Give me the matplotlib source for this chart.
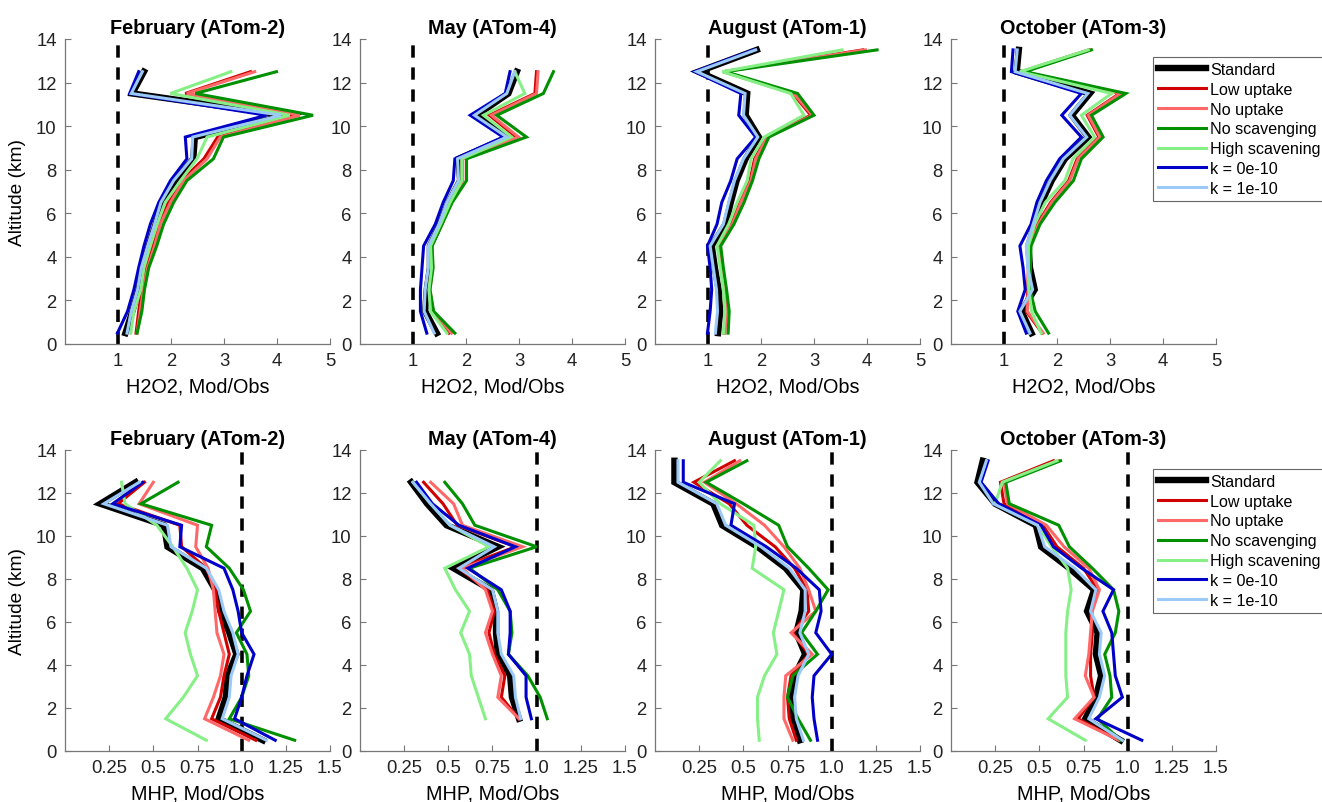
import numpy as np
import matplotlib
matplotlib.use("Agg")
import matplotlib.pyplot as plt

plt.rcParams["font.family"] = ["Liberation Sans", "DejaVu Sans"]

nan = np.nan

# altitude bin centres (km)
altitude = [0.5, 1.5, 2.5, 3.5, 4.5, 5.5, 6.5, 7.5, 8.5, 9.5, 10.5, 11.5, 12.5, 13.5]

labels = ["Standard", "Low uptake", "No uptake", "No scavenging",
          "High scavening", "k = 0e-10", "k = 1e-10"]
keys = ["std", "low", "noup", "nosc", "hisc", "k0", "k1"]
colors = ["black", "#d00000", "#ff6868", "#009000", "#86f086", "#0000c8", "#9ccaf8"]
widths = [4.6, 2.2, 2.2, 2.2, 2.2, 2.2, 2.2]

titles = ["February (ATom-2)", "May (ATom-4)", "August (ATom-1)", "October (ATom-3)"]

# H2O2 model/obs ratios, bottom to top
h2o2_feb = {
    "std":  [1.14, 1.27, 1.39, 1.46, 1.58, 1.71, 1.83, 2.08, 2.42, 2.45, 4.17, 1.27, 1.49, nan],
    "low":  [1.34, 1.39, 1.45, 1.53, 1.66, 1.78, 1.95, 2.20, 2.62, 2.88, 4.38, 2.27, 3.50, nan],
    "noup": [1.36, 1.42, 1.48, 1.56, 1.69, 1.80, 1.99, 2.24, 2.68, 2.93, 4.43, 2.30, 3.58, nan],
    "nosc": [1.36, 1.45, 1.50, 1.58, 1.73, 1.86, 2.05, 2.30, 2.80, 2.99, 4.68, 2.46, 3.99, nan],
    "hisc": [1.24, 1.30, 1.43, 1.49, 1.61, 1.74, 1.89, 2.18, 2.49, 2.68, 4.24, 1.99, 3.13, nan],
    "k0":   [0.99, 1.18, 1.30, 1.39, 1.49, 1.61, 1.77, 1.99, 2.30, 2.27, 3.80, 1.22, 1.39, nan],
    "k1":   [1.17, 1.25, 1.37, 1.44, 1.56, 1.69, 1.81, 2.05, 2.39, 2.41, 4.08, 1.25, 1.46, nan],
}
h2o2_may = {
    "std":  [1.45, 1.23, 1.26, 1.32, 1.32, 1.51, 1.67, 1.89, 1.86, 2.80, 2.20, 2.80, 2.96, nan],
    "low":  [1.68, 1.35, 1.30, 1.36, 1.34, 1.54, 1.70, 1.93, 1.92, 2.95, 2.44, 3.30, 3.33, nan],
    "noup": [1.73, 1.38, 1.32, 1.37, 1.35, 1.55, 1.71, 1.94, 1.94, 2.99, 2.48, 3.33, 3.36, nan],
    "nosc": [1.79, 1.39, 1.32, 1.38, 1.36, 1.55, 1.74, 2.01, 2.01, 3.14, 2.58, 3.46, 3.65, nan],
    "hisc": [1.64, 1.33, 1.30, 1.35, 1.33, 1.52, 1.70, 1.92, 1.92, 2.86, 2.33, 3.11, 2.92, nan],
    "k0":   [1.26, 1.14, 1.14, 1.17, 1.20, 1.42, 1.57, 1.76, 1.79, 2.70, 2.08, 2.74, 2.83, nan],
    "k1":   [1.40, 1.21, 1.23, 1.29, 1.29, 1.49, 1.64, 1.86, 1.84, 2.77, 2.16, 2.77, 2.92, nan],
}
h2o2_aug = {
    "std":  [1.19, 1.23, 1.20, 1.13, 1.07, 1.33, 1.43, 1.54, 1.71, 1.96, 1.71, 1.74, 0.82, 1.92],
    "low":  [1.30, 1.33, 1.30, 1.25, 1.19, 1.44, 1.60, 1.79, 1.88, 2.10, 2.94, 2.60, 1.29, 3.92],
    "noup": [1.32, 1.35, 1.32, 1.26, 1.20, 1.46, 1.62, 1.81, 1.90, 2.12, 2.97, 2.62, 1.30, 3.97],
    "nosc": [1.38, 1.40, 1.35, 1.29, 1.24, 1.49, 1.68, 1.84, 1.96, 2.15, 3.00, 2.69, 1.33, 4.19],
    "hisc": [1.29, 1.32, 1.29, 1.23, 1.17, 1.39, 1.55, 1.74, 1.81, 2.06, 2.81, 2.56, 1.27, 3.53],
    "k0":   [0.99, 1.04, 1.07, 1.04, 0.99, 1.17, 1.26, 1.43, 1.55, 1.90, 1.58, 1.62, 0.75, 1.86],
    "k1":   [1.14, 1.18, 1.16, 1.10, 1.04, 1.29, 1.39, 1.50, 1.67, 1.94, 1.67, 1.70, 0.79, 1.90],
}
h2o2_oct = {
    "std":  [1.52, 1.33, 1.58, 1.49, 1.46, 1.58, 1.71, 1.90, 2.15, 2.59, 2.28, 2.62, 1.24, 1.28],
    "low":  [1.72, 1.42, 1.45, 1.46, 1.47, 1.63, 1.88, 2.22, 2.38, 2.79, 2.57, 3.18, 1.33, 2.60],
    "noup": [1.74, 1.44, 1.46, 1.47, 1.49, 1.65, 1.90, 2.24, 2.40, 2.81, 2.59, 3.20, 1.35, 2.63],
    "nosc": [1.84, 1.59, 1.49, 1.50, 1.51, 1.68, 1.96, 2.31, 2.46, 2.87, 2.65, 3.30, 1.40, 2.65],
    "hisc": [1.70, 1.52, 1.47, 1.46, 1.46, 1.58, 1.78, 2.15, 2.30, 2.71, 2.46, 3.03, 1.30, 2.59],
    "k0":   [1.42, 1.26, 1.40, 1.36, 1.30, 1.51, 1.62, 1.80, 2.05, 2.46, 2.09, 2.46, 1.14, 1.17],
    "k1":   [1.49, 1.30, 1.54, 1.45, 1.42, 1.55, 1.68, 1.87, 2.12, 2.56, 2.24, 2.58, 1.21, 1.25],
}

# MHP model/obs ratios, bottom to top
mhp_feb = {
    "std":  [1.12, 0.87, 0.91, 0.92, 0.97, 0.93, 0.88, 0.85, 0.78, 0.58, 0.56, 0.20, 0.40, nan],
    "low":  [1.08, 0.83, 0.88, 0.90, 0.93, 0.90, 0.87, 0.85, 0.80, 0.66, 0.65, 0.30, 0.45, nan],
    "noup": [1.04, 0.79, 0.84, 0.88, 0.90, 0.86, 0.85, 0.84, 0.81, 0.74, 0.75, 0.42, 0.50, nan],
    "nosc": [1.30, 0.93, 1.00, 1.04, 1.03, 0.97, 1.05, 1.01, 0.93, 0.80, 0.83, 0.43, 0.64, nan],
    "hisc": [0.80, 0.57, 0.67, 0.75, 0.71, 0.68, 0.72, 0.75, 0.69, 0.61, 0.52, 0.34, 0.32, nan],
    "k0":   [1.19, 0.96, 1.00, 1.03, 1.07, 1.00, 0.98, 0.95, 0.90, 0.65, 0.66, 0.27, 0.44, nan],
    "k1":   [1.14, 0.89, 0.93, 0.94, 0.98, 0.95, 0.90, 0.87, 0.80, 0.60, 0.58, 0.22, 0.42, nan],
}
mhp_may = {
    "std":  [nan, 0.90, 0.86, 0.85, 0.78, 0.77, 0.77, 0.74, 0.53, 0.78, 0.49, 0.38, 0.29, nan],
    "low":  [nan, 0.90, 0.80, 0.82, 0.76, 0.73, 0.76, 0.72, 0.56, 0.88, 0.55, 0.47, 0.36, nan],
    "noup": [nan, 0.90, 0.78, 0.80, 0.75, 0.71, 0.75, 0.71, 0.58, 0.92, 0.58, 0.53, 0.40, nan],
    "nosc": [nan, 1.06, 1.02, 0.95, 0.84, 0.86, 0.85, 0.78, 0.62, 1.00, 0.65, 0.58, 0.48, nan],
    "hisc": [nan, 0.71, 0.67, 0.63, 0.62, 0.57, 0.62, 0.54, 0.48, 0.73, 0.51, 0.40, 0.30, nan],
    "k0":   [nan, 0.97, 0.94, 0.94, 0.84, 0.85, 0.85, 0.80, 0.61, 0.88, 0.56, 0.41, 0.32, nan],
    "k1":   [nan, 0.91, 0.88, 0.87, 0.80, 0.78, 0.78, 0.75, 0.56, 0.76, 0.51, 0.40, 0.30, nan],
}
mhp_aug = {
    "std":  [0.82, 0.78, 0.77, 0.79, 0.85, 0.80, 0.83, 0.84, 0.74, 0.58, 0.38, 0.33, 0.11, 0.11],
    "low":  [0.80, 0.76, 0.75, 0.77, 0.87, 0.78, 0.87, 0.86, 0.79, 0.68, 0.52, 0.42, 0.22, 0.45],
    "noup": [0.78, 0.73, 0.73, 0.74, 0.89, 0.77, 0.91, 0.87, 0.82, 0.73, 0.62, 0.46, 0.28, 0.48],
    "nosc": [0.88, 0.81, 0.75, 0.78, 0.92, 0.83, 0.91, 0.98, 0.87, 0.75, 0.70, 0.50, 0.29, 0.52],
    "hisc": [0.59, 0.58, 0.58, 0.62, 0.69, 0.67, 0.70, 0.73, 0.55, 0.57, 0.56, 0.37, 0.25, 0.37],
    "k0":   [0.92, 0.90, 0.89, 0.90, 1.00, 0.91, 0.94, 0.93, 0.80, 0.63, 0.43, 0.45, 0.16, 0.16],
    "k1":   [0.84, 0.80, 0.79, 0.81, 0.87, 0.82, 0.85, 0.85, 0.76, 0.60, 0.40, 0.35, 0.13, 0.13],
}
mhp_oct = {
    "std":  [0.96, 0.76, 0.82, 0.85, 0.82, 0.83, 0.77, 0.81, 0.67, 0.51, 0.48, 0.25, 0.15, 0.18],
    "low":  [0.95, 0.72, 0.81, 0.79, 0.79, 0.80, 0.79, 0.83, 0.75, 0.60, 0.52, 0.30, 0.28, 0.58],
    "noup": [0.95, 0.70, 0.81, 0.76, 0.78, 0.79, 0.80, 0.84, 0.78, 0.64, 0.54, 0.32, 0.30, 0.61],
    "nosc": [0.96, 0.83, 0.91, 0.90, 0.87, 0.93, 0.95, 0.92, 0.80, 0.67, 0.61, 0.33, 0.31, 0.62],
    "hisc": [0.76, 0.55, 0.66, 0.65, 0.65, 0.65, 0.66, 0.68, 0.66, 0.57, 0.49, 0.25, 0.29, 0.60],
    "k0":   [1.08, 0.82, 0.97, 0.93, 0.92, 0.91, 0.86, 0.92, 0.74, 0.58, 0.51, 0.27, 0.17, 0.21],
    "k1":   [0.97, 0.78, 0.84, 0.87, 0.84, 0.85, 0.79, 0.82, 0.70, 0.53, 0.49, 0.24, 0.16, 0.20],
}

h2o2_panels = [h2o2_feb, h2o2_may, h2o2_aug, h2o2_oct]
mhp_panels = [mhp_feb, mhp_may, mhp_aug, mhp_oct]

W, H = 1322, 803
fig = plt.figure(figsize=(W / 100, H / 100), dpi=100)

lefts = [65, 360, 655, 951]
ax_w = 265
spine_col = "#777777"


def draw_panel(ax, data, title, xlim, xticks, xticklabels, xlabel, ylabel):
    ax.plot([1, 1], [0, 14], color="black", lw=2.6, ls=(0, (3.4, 2.7)))
    for k, lab, c, lw in zip(keys, labels, colors, widths):
        ax.plot(data[k], altitude, color=c, lw=lw, label=lab, solid_joinstyle="miter")
    ax.set_xlim(*xlim)
    ax.set_ylim(0, 14)
    ax.set_xticks(xticks)
    ax.set_xticklabels(xticklabels)
    ax.set_yticks(range(0, 15, 2))
    ax.set_title(title, fontsize=14.3, fontweight="bold", pad=4)
    ax.set_xlabel(xlabel, fontsize=14.3, labelpad=5)
    if ylabel:
        ax.set_ylabel(ylabel, fontsize=13.8, labelpad=7)
    for s in ["top", "right"]:
        ax.spines[s].set_visible(False)
    for s in ["left", "bottom"]:
        ax.spines[s].set_color(spine_col)
        ax.spines[s].set_linewidth(0.9)
    ax.tick_params(direction="in", length=4, width=0.8, color=spine_col,
                   labelsize=13.3, labelcolor="#222222", pad=6)


def add_legend(ax, top_px):
    leg = ax.legend(loc="upper left", bbox_to_anchor=(1153 / W, 1 - top_px / H),
                    bbox_transform=fig.transFigure, fontsize=11.6,
                    handlelength=3.0, handletextpad=0.25, labelspacing=0.3,
                    borderpad=0.3, borderaxespad=0, fancybox=False,
                    framealpha=1, edgecolor="#666666")
    leg.get_frame().set_linewidth(0.8)


for i in range(4):
    ax = fig.add_axes([lefts[i] / W, 1 - 345 / H, ax_w / W, 305 / H])
    draw_panel(ax, h2o2_panels[i], titles[i], (0, 5), [1, 2, 3, 4, 5],
               ["1", "2", "3", "4", "5"], "H2O2, Mod/Obs",
               "Altitude (km)" if i == 0 else None)
    if i == 3:
        add_legend(ax, 58)

for i in range(4):
    ax = fig.add_axes([lefts[i] / W, 1 - 752 / H, ax_w / W, 301 / H])
    draw_panel(ax, mhp_panels[i], titles[i], (0, 1.5),
               [0.25, 0.5, 0.75, 1.0, 1.25, 1.5],
               ["0.25", "0.5", "0.75", "1.0", "1.25", "1.5"], "MHP, Mod/Obs",
               "Altitude (km)" if i == 0 else None)
    if i == 3:
        add_legend(ax, 470)

fig.savefig("out.png", dpi=100)
